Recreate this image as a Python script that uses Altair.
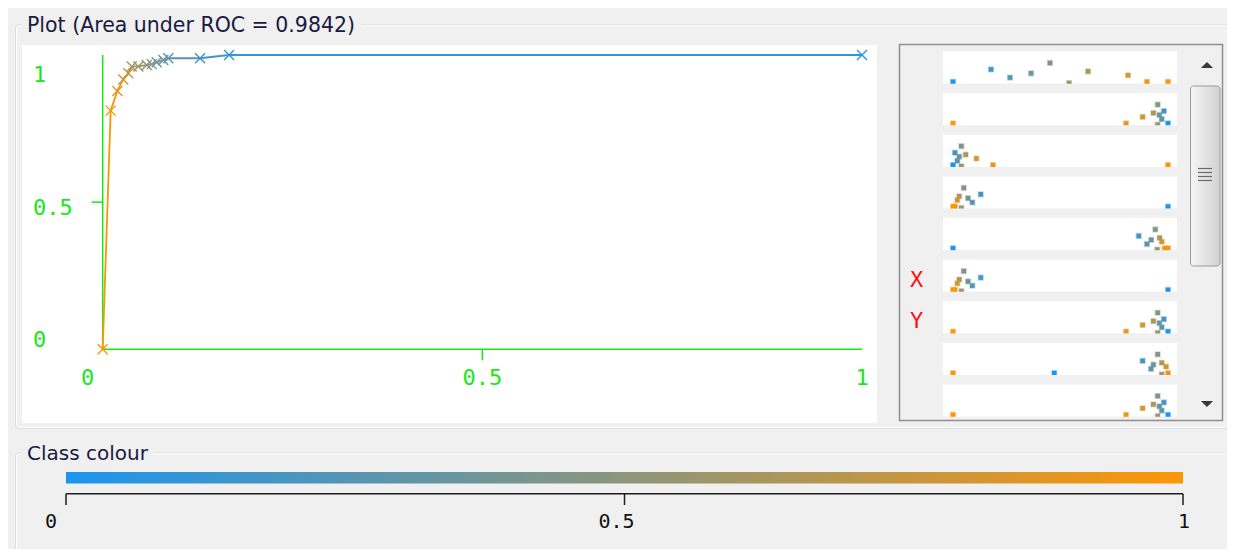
import altair as alt
import pandas as pd

# ---------------- data ----------------
# ROC curve points (false positive rate, true positive rate) and their threshold (class colour)
roc_fpr = [0.0, 0.0105, 0.0193, 0.0271, 0.0337, 0.0382, 0.0469, 0.0580, 0.0646, 0.0711, 0.0798, 0.0864, 0.1282, 0.1664, 1.0]
roc_tpr = [0.0, 0.811, 0.878, 0.917, 0.938, 0.961, 0.961, 0.966, 0.969, 0.975, 0.983, 0.989, 0.989, 1.0, 1.0]
roc_threshold = [1.0, 0.97, 0.90, 0.80, 0.72, 0.63, 0.56, 0.50, 0.44, 0.38, 0.32, 0.26, 0.18, 0.10, 0.0]

roc_tick_values = [0.0, 0.5, 1.0]
roc_tick_labels = ["0", "0.5", "1"]
roc_mid_ticks = [0.5]

# attribute strips on the right (one value per instance in each strip)
attr_names = ["Instance number", "True Positives", "False Negatives", "False Positives",
              "True Negatives", "False Positive Rate", "True Positive Rate", "Precision", "Recall"]
inst_threshold = [0.0, 0.18, 0.27, 0.36, 0.45, 0.55, 0.64, 0.82, 0.91, 1.0]
inst_jitter = [0.06, 0.44, 0.19, 0.32, 0.64, 0.02, 0.38, 0.26, 0.06, 0.06]
strip_instance = [0.0, 0.177, 0.265, 0.363, 0.451, 0.540, 0.628, 0.814, 0.902, 1.0]
strip_tp = [1.0, 0.981, 0.971, 0.960, 0.952, 0.952, 0.932, 0.882, 0.805, 0.0]
strip_fn = [0.0, 0.009, 0.020, 0.029, 0.039, 0.039, 0.059, 0.109, 0.186, 1.0]
strip_fp = [1.0, 0.129, 0.090, 0.070, 0.050, 0.039, 0.029, 0.020, 0.009, 0.0]
strip_tn = [0.0, 0.864, 0.902, 0.922, 0.941, 0.950, 0.961, 0.971, 0.985, 1.0]
strip_fpr = [1.0, 0.129, 0.090, 0.070, 0.050, 0.039, 0.029, 0.020, 0.009, 0.0]
strip_tpr = [1.0, 0.981, 0.971, 0.960, 0.952, 0.952, 0.932, 0.882, 0.805, 0.0]
strip_precision = [0.471, 0.882, 0.921, 0.932, 0.952, 0.971, 0.971, 0.991, 1.0, 0.0]
strip_recall = [1.0, 0.981, 0.971, 0.960, 0.952, 0.952, 0.932, 0.882, 0.805, 0.0]

axis_marks = ["X", "Y"]
axis_mark_rows = [5, 6]

colour_ticks = [0.0, 0.5, 1.0]
colour_labels = ["0", "0.5", "1"]

# ---------------- styling / layout ----------------
BG = "#f0f0f0"
BLUE = "#1b95ef"
ORANGE = "#fd9606"
GREEN = "#17e817"
MONO = "DejaVu Sans Mono"
UI = "DejaVu Sans"
W, H = 1219, 541
ROW_STEP = 1.285


def P(v):
    return v - 8


roc_x = alt.Scale(domain=[0, 1], range=[P(102.7), P(862)], nice=False, zero=False)
roc_y = alt.Scale(domain=[0, 1], range=[P(349.3), P(55)], nice=False, zero=False)
cls = alt.Scale(domain=[0, 1], range=[BLUE, ORANGE], interpolate="rgb")
side_x = alt.Scale(domain=[0, 1], range=[P(953), P(1168)], nice=False, zero=False)
side_y = alt.Scale(domain=[0, 8 * ROW_STEP + 1], range=[P(51.3), P(416.7)], nice=False, zero=False)
bar_x = alt.Scale(domain=[0, 1], range=[P(66), P(1183)], nice=False, zero=False)

ONE = pd.DataFrame({"k": [0]})


def box(x1, y1, x2, y2, **kw):
    return alt.Chart(ONE).mark_rect(**kw).encode(
        x=alt.value(P(x1)), x2=alt.value(P(x2)), y=alt.value(P(y1)), y2=alt.value(P(y2)))


def seg(x1, y1, x2, y2, **kw):
    return alt.Chart(ONE).mark_rule(**kw).encode(
        x=alt.value(P(x1)), x2=alt.value(P(x2)), y=alt.value(P(y1)), y2=alt.value(P(y2)))


def label(txt, x, y, **kw):
    return alt.Chart(ONE).mark_text(text=txt, **kw).encode(x=alt.value(P(x)), y=alt.value(P(y)))


# ---------------- tables built from the arrays ----------------
roc_df = pd.DataFrame({"fpr": roc_fpr, "tpr": roc_tpr, "thr": roc_threshold})
seg_df = roc_df.copy()
seg_df["fpr2"] = seg_df["fpr"].shift(-1)
seg_df["tpr2"] = seg_df["tpr"].shift(-1)
seg_df = seg_df.dropna()

strips = [strip_instance, strip_tp, strip_fn, strip_fp, strip_tn,
          strip_fpr, strip_tpr, strip_precision, strip_recall]
recs = []
for k, (name, vals) in enumerate(zip(attr_names, strips)):
    for v, t, j in zip(vals, inst_threshold, inst_jitter):
        recs.append({"attr": name, "row": k, "x": v, "thr": t,
                     "ypos": k * ROW_STEP + 1 - j})
side_df = pd.DataFrame(recs)
rows_df = pd.DataFrame({"attr": attr_names, "row": range(len(attr_names))})
rows_df["top"] = rows_df["row"] * ROW_STEP
rows_df["bot"] = rows_df["top"] + 1
rows_df["gap_end"] = rows_df["top"] + ROW_STEP
marks_df = pd.DataFrame({"lbl": axis_marks, "row": axis_mark_rows})
marks_df["ypos"] = marks_df["row"] * ROW_STEP + 0.63

roc_axis_df = pd.DataFrame({"lo": [min(roc_tick_values)], "hi": [max(roc_tick_values)]})
roc_ticks_df = pd.DataFrame({"v": roc_tick_values, "lbl": roc_tick_labels})
roc_mid_df = pd.DataFrame({"v": roc_mid_ticks})
bar_df = pd.DataFrame({"lo": [min(colour_ticks)], "hi": [max(colour_ticks)]})
bar_ticks_df = pd.DataFrame({"v": colour_ticks, "lbl": colour_labels})

layers = []

# ---- "Plot" group box ----
layers.append(box(15.5, 25, 1229.5, 428.5, fillOpacity=0, stroke="#d5dfe5", strokeWidth=1, cornerRadius=3))
layers.append(box(16.5, 26, 1228.5, 427.5, fillOpacity=0, stroke="#ffffff", strokeWidth=1, cornerRadius=3))
layers.append(box(22, 14, 362, 36, fill=BG))
layers.append(label("Plot (Area under ROC = 0.9842)", 27, 25.5, align="left", baseline="middle",
                    font=UI, fontSize=20.5, color="#1a1a40"))
layers.append(box(22, 45, 877, 423, fill="#ffffff"))

# ---- attribute strip panel ----
layers.append(box(899.5, 44.5, 1222.5, 420.5, fill=BG))
layers.append(alt.Chart(rows_df).mark_rect(color="#ffffff").encode(
    x=alt.value(P(943)), x2=alt.value(P(1177)),
    y=alt.Y("top:Q", scale=side_y, axis=None), y2="bot:Q"))
layers.append(alt.Chart(side_df).mark_square(size=21, opacity=1, strokeWidth=1.6, strokeOpacity=0.35).encode(
    x=alt.X("x:Q", scale=side_x, axis=None),
    y=alt.Y("ypos:Q", scale=side_y, axis=None),
    color=alt.Color("thr:Q", scale=cls, legend=None),
    stroke=alt.Stroke("thr:Q", scale=cls, legend=None)))
layers.append(alt.Chart(rows_df).mark_rect(color=BG).encode(
    x=alt.value(P(940)), x2=alt.value(P(1180)),
    y=alt.Y("bot:Q", scale=side_y, axis=None), y2="gap_end:Q"))
layers.append(alt.Chart(marks_df).mark_text(font=MONO, fontSize=22, color="#ff1010", align="center",
                                            baseline="middle").encode(
    x=alt.value(P(916.5)), y=alt.Y("ypos:Q", scale=side_y, axis=None), text="lbl:N"))

# scrollbar
thumb_grad = alt.LinearGradient(gradient="linear", x1=0, x2=1, y1=0, y2=0,
                                stops=[alt.GradientStop(color="#f6f6f6", offset=0),
                                       alt.GradientStop(color="#e4e4e4", offset=0.5),
                                       alt.GradientStop(color="#d2d2d2", offset=1)])
layers.append(box(1190.5, 86, 1220, 266, color=thumb_grad, stroke="#9a9a9a", strokeWidth=1, cornerRadius=3))
for gy in [168.5, 172.5, 176.5, 180.5]:
    layers.append(seg(1198, gy, 1212, gy, color="#6a6a6a", strokeWidth=1.2))
layers.append(alt.Chart(ONE).mark_point(shape="M-1,0.5L0,-0.5L1,0.5Z", size=150, filled=True,
                                        color="#3a3a3a", opacity=1).encode(
    x=alt.value(P(1207)), y=alt.value(P(65))))
layers.append(alt.Chart(ONE).mark_point(shape="M-1,-0.5L0,0.5L1,-0.5Z", size=150, filled=True,
                                        color="#3a3a3a", opacity=1).encode(
    x=alt.value(P(1207)), y=alt.value(P(404))))
layers.append(box(899.5, 44.5, 1222.5, 420.5, fillOpacity=0, stroke="#8f8f8f", strokeWidth=1.5))

# ---- ROC plot ----
layers.append(alt.Chart(roc_axis_df).mark_rule(color=GREEN, strokeWidth=1.5).encode(
    x=alt.X("lo:Q", scale=roc_x, axis=None), x2="hi:Q",
    y=alt.Y("lo:Q", scale=roc_y, axis=None)))
layers.append(alt.Chart(roc_axis_df).mark_rule(color=GREEN, strokeWidth=1.5).encode(
    x=alt.X("lo:Q", scale=roc_x, axis=None),
    y=alt.Y("lo:Q", scale=roc_y, axis=None), y2="hi:Q"))
layers.append(alt.Chart(roc_mid_df).mark_rule(color=GREEN, strokeWidth=1.5).encode(
    y=alt.Y("v:Q", scale=roc_y, axis=None), x=alt.value(P(91.7)), x2=alt.value(P(102.7))))
layers.append(alt.Chart(roc_mid_df).mark_rule(color=GREEN, strokeWidth=1.5).encode(
    x=alt.X("v:Q", scale=roc_x, axis=None), y=alt.value(P(349.3)), y2=alt.value(P(360.3))))

layers.append(alt.Chart(seg_df).mark_rule(strokeWidth=1.8).encode(
    x=alt.X("fpr:Q", scale=roc_x, axis=None), x2="fpr2:Q",
    y=alt.Y("tpr:Q", scale=roc_y, axis=None), y2="tpr2:Q",
    color=alt.Color("thr:Q", scale=cls, legend=None)))
layers.append(alt.Chart(roc_df).mark_point(shape="M-1,-1L1,1M-1,1L1,-1", size=100, filled=False,
                                           strokeWidth=1.4, opacity=1).encode(
    x=alt.X("fpr:Q", scale=roc_x, axis=None),
    y=alt.Y("tpr:Q", scale=roc_y, axis=None),
    color=alt.Color("thr:Q", scale=cls, legend=None)))

# x-axis labels (Weka offsets the first one to the left of its tick)
for v, dx in [(0.0, -15), (0.5, 0), (1.0, 0)]:
    layers.append(alt.Chart(roc_ticks_df).transform_filter(alt.datum.v == v).mark_text(
        font=MONO, fontSize=22, color=GREEN, align="center", baseline="middle", dx=dx).encode(
        x=alt.X("v:Q", scale=roc_x, axis=None), y=alt.value(P(378)), text="lbl:N"))
# y-axis labels
for v, dy in [(0.0, -9), (0.5, 6), (1.0, 20)]:
    layers.append(alt.Chart(roc_ticks_df).transform_filter(alt.datum.v == v).mark_text(
        font=MONO, fontSize=22, color=GREEN, align="left", baseline="middle", dy=dy).encode(
        y=alt.Y("v:Q", scale=roc_y, axis=None), x=alt.value(P(33)), text="lbl:N"))

# ---- "Class colour" group box ----
layers.append(box(15.5, 453, 1229.5, 551, fillOpacity=0, stroke="#d5dfe5", strokeWidth=1, cornerRadius=3))
layers.append(box(16.5, 454, 1228.5, 550, fillOpacity=0, stroke="#ffffff", strokeWidth=1, cornerRadius=3))
layers.append(box(22, 442, 153, 464, fill=BG))
layers.append(label("Class colour", 27, 453.5, align="left", baseline="middle",
                    font=UI, fontSize=20, color="#1a1a40"))

bar_grad = alt.LinearGradient(gradient="linear", x1=0, x2=1, y1=0, y2=0,
                              stops=[alt.GradientStop(color=BLUE, offset=0),
                                     alt.GradientStop(color=ORANGE, offset=1)])
layers.append(alt.Chart(bar_df).mark_rect(color=bar_grad).encode(
    x=alt.X("lo:Q", scale=bar_x, axis=None), x2="hi:Q",
    y=alt.value(P(472)), y2=alt.value(P(483.5))))
layers.append(alt.Chart(bar_df).mark_rule(color="#1e1e1e", strokeWidth=1.5).encode(
    x=alt.X("lo:Q", scale=bar_x, axis=None), x2="hi:Q", y=alt.value(P(493.8))))
layers.append(alt.Chart(bar_ticks_df).mark_rule(color="#1e1e1e", strokeWidth=1.5).encode(
    x=alt.X("v:Q", scale=bar_x, axis=None), y=alt.value(P(493.8)), y2=alt.value(P(505))))
for v, dx in [(0.0, -15), (0.5, -8), (1.0, 1)]:
    layers.append(alt.Chart(bar_ticks_df).transform_filter(alt.datum.v == v).mark_text(
        font=MONO, fontSize=20, color="#111111", align="center", baseline="middle", dx=dx).encode(
        x=alt.X("v:Q", scale=bar_x, axis=None), y=alt.value(P(521.5)), text="lbl:N"))

chart = alt.layer(*layers).resolve_scale(
    x="independent", y="independent", color="independent", stroke="independent"
).properties(
    width=W, height=H, padding=0, autosize=alt.AutoSizeParams(type="none")
).configure(background=BG).configure_view(stroke=None)

chart.save("out.html", embed_options={"renderer": "svg", "actions": False})
